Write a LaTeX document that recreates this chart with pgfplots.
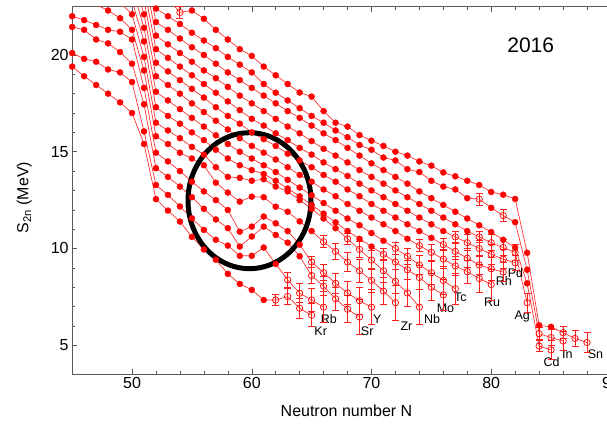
\documentclass[border=0pt]{standalone}
\usepackage{fontspec}
\setmainfont{Liberation Sans}
\usepackage{pgfplots}
\usepackage{pgfplotstable}
\pgfplotsset{compat=1.18}
\definecolor{barred}{RGB}{255,30,30}

% columns: N, S2n (MeV), E (error; 0 = filled/measured point, >0 = open/estimated point)
\pgfplotstableread{
N S E
45 19.40 0
46 18.90 0
47 18.45 0
48 18.00 0
49 17.55 0
50 17.00 0
51 15.40 0
52 12.55 0
53 11.96 0
54 11.39 0
55 10.60 0
56 9.95 0
57 9.42 0
58 8.69 0
59 8.17 0
60 7.86 0
61 7.34 0
62 7.34 0.3
63 7.52 0.4
64 6.91 0.5
65 6.55 0.6
}\Kr
\pgfplotstableread{
N S E
45 20.10 0
46 19.80 0
47 19.65 0
48 19.25 0
49 19.10 0
50 18.60 0
51 16.05 0
52 13.28 0
53 12.77 0
54 12.17 0
55 11.56 0
56 10.96 0
57 10.45 0
58 10.15 0
59 9.62 0
60 9.62 0
61 10.05 0
62 9.20 0
63 8.38 0.4
64 7.69 0.5
65 7.34 0.6
66 6.97 0.8
}\Rb
\pgfplotstableread{
N S E
45 21.45 0
46 21.30 0
47 20.80 0
48 20.60 0
49 20.15 0
50 19.55 0
51 17.45 0
52 14.15 0
53 13.70 0
54 13.20 0
55 12.65 0
56 12.05 0
57 11.50 0
58 11.05 0
59 10.10 0
60 10.62 0
61 11.13 0
62 10.70 0
63 10.30 0
64 9.60 0
65 8.60 0.4
66 8.05 0.5
67 7.40 0.6
68 6.86 0.7
69 6.46 0.9
}\Sr
\pgfplotstableread{
N S E
45 22.00 0
46 21.80 0
47 21.55 0
48 21.30 0
49 21.20 0
50 20.80 0
51 18.30 0
52 14.95 0
53 14.50 0
54 14.00 0
55 13.45 0
56 12.95 0
57 12.50 0
58 11.99 0
59 10.87 0
60 11.13 0
61 11.65 0
62 11.30 0
63 10.90 0
64 10.20 0
65 9.30 0.3
66 8.75 0.4
67 8.20 0.5
68 7.70 0.6
69 7.30 0.7
70 6.97 0.9
}\Y
\pgfplotstableread{
N S E
45 23.30 0
46 23.00 0
47 22.60 0
48 22.30 0
49 21.90 0
50 21.30 0
51 19.20 0
52 15.80 0
53 15.40 0
54 14.95 0
55 14.65 0
56 14.30 0
57 13.40 0
58 12.89 0
59 12.42 0
60 12.68 0
61 12.65 0
62 12.16 0
63 11.90 0
64 11.40 0
65 10.90 0
66 10.35 0.3
67 9.85 0.4
68 9.30 0.5
69 8.85 0.6
70 8.35 0.6
71 7.80 0.7
72 7.20 0.9
}\Zr
\pgfplotstableread{
N S E
47 23.40 0
48 23.10 0
49 22.70 0
50 22.10 0
51 19.90 0
52 16.50 0
53 16.10 0
54 15.70 0
55 15.25 0
56 14.85 0
57 14.20 0
58 13.70 0
59 13.65 0
60 13.50 0
61 13.58 0
62 13.20 0
63 12.95 0
64 12.50 0
65 12.05 0
66 11.55 0
67 11.05 0
68 10.50 0.3
69 9.95 0.4
70 9.40 0.5
71 8.85 0.6
72 8.30 0.6
73 7.70 0.7
74 6.97 0.9
}\Nb
\pgfplotstableread{
N S E
49 23.40 0
50 22.80 0
51 20.70 0
52 17.30 0
53 16.85 0
54 16.45 0
55 16.00 0
56 15.60 0
57 15.10 0
58 14.65 0
59 14.30 0
60 14.05 0
61 13.85 0
62 13.50 0
63 13.10 0
64 12.70 0
65 12.25 0
66 11.80 0
67 11.35 0
68 10.90 0
69 10.50 0
70 10.10 0
71 9.70 0.3
72 9.30 0.4
73 8.90 0.5
74 8.50 0.6
75 8.00 0.7
76 7.60 0.8
}\Mo
\pgfplotstableread{
N S E
50 23.50 0
51 21.40 0
52 18.10 0
53 17.65 0
54 17.20 0
55 16.75 0
56 16.30 0
57 15.85 0
58 15.40 0
59 15.00 0
60 14.65 0
61 14.30 0
62 13.95 0
63 13.55 0
64 13.15 0
65 12.75 0
66 12.35 0
67 11.95 0
68 11.55 0
69 11.20 0
70 10.80 0
71 10.40 0
72 10.00 0.3
73 9.60 0.4
74 9.15 0.5
75 8.75 0.6
76 8.35 0.7
77 7.92 0.8
}\Tc
\pgfplotstableread{
N S E
50 24.20 0
51 22.10 0
52 18.90 0
53 18.45 0
54 18.00 0
55 17.50 0
56 17.05 0
57 16.60 0
58 16.15 0
59 15.70 0
60 15.30 0
61 14.95 0
62 14.60 0
63 14.20 0
64 13.80 0
65 13.45 0
66 13.05 0
67 12.70 0
68 12.30 0
69 11.95 0
70 11.60 0
71 11.25 0
72 10.90 0
73 10.50 0
74 10.15 0.3
75 9.80 0.4
76 9.45 0.5
77 9.10 0.5
78 8.80 0.6
79 8.45 0.7
80 8.14 0.8
}\Ru
\pgfplotstableread{
N S E
50 24.90 0
51 22.80 0
52 19.60 0
53 19.15 0
54 18.70 0
55 18.25 0
56 17.80 0
57 17.30 0
58 16.85 0
59 16.45 0
60 16.00 0
61 15.65 0
62 15.30 0
63 14.90 0
64 14.55 0
65 14.20 0
66 13.80 0
67 13.45 0
68 13.05 0
69 12.70 0
70 12.30 0
71 11.95 0
72 11.60 0
73 11.25 0
74 10.90 0
75 10.55 0
76 10.20 0.3
77 9.85 0.4
78 9.50 0.5
79 9.15 0.5
80 8.95 0.6
81 8.78 0.5
}\Rh
\pgfplotstableread{
N S E
50 25.60 0
51 23.50 0
52 20.30 0
53 19.85 0
54 19.40 0
55 18.95 0
56 18.50 0
57 18.05 0
58 17.60 0
59 17.15 0
60 16.70 0
61 16.35 0
62 15.95 0
63 15.60 0
64 15.20 0
65 14.85 0
66 14.45 0
67 14.10 0
68 13.75 0
69 13.35 0
70 13.00 0
71 12.65 0
72 12.30 0
73 11.95 0
74 11.60 0
75 11.25 0
76 10.90 0
77 10.60 0.3
78 10.30 0.4
79 10.00 0.4
80 9.70 0.5
81 9.45 0.5
82 9.26 0.4
}\Pd
\pgfplotstableread{
N S E
51 24.20 0
52 21.00 0
53 20.55 0
54 20.10 0
55 19.65 0
56 19.20 0
57 18.80 0
58 18.35 0
59 17.90 0
60 17.50 0
61 17.10 0
62 16.70 0
63 16.30 0
64 15.95 0
65 15.55 0
66 15.15 0
67 14.80 0
68 14.45 0
69 14.05 0
70 13.70 0
71 13.35 0
72 13.00 0
73 12.65 0
74 12.30 0
75 11.95 0
76 11.60 0
77 11.25 0
78 10.90 0
79 10.60 0.3
80 10.30 0.4
81 10.05 0.4
82 9.80 0.4
83 7.20 0.5
}\Ag
\pgfplotstableread{
N S E
51 24.90 0
52 21.70 0
53 21.30 0
54 20.85 0
55 20.40 0
56 20.00 0
57 19.55 0
58 19.10 0
59 18.70 0
60 18.30 0
61 17.90 0
62 17.50 0
63 17.10 0
64 16.75 0
65 16.35 0
66 15.95 0
67 15.60 0
68 15.20 0
69 14.80 0
70 14.40 0
71 14.05 0
72 13.70 0
73 13.35 0
74 12.95 0
75 12.60 0
76 12.25 0
77 11.90 0
78 11.55 0
79 11.20 0
80 10.85 0
81 10.45 0
82 10.04 0
83 8.20 0
84 4.96 0.3
85 4.76 0.5
}\Cd
\pgfplotstableread{
N S E
51 25.60 0
52 22.40 0
53 22.00 0
54 21.60 0
55 21.15 0
56 20.75 0
57 20.35 0
58 19.90 0
59 19.50 0
60 19.10 0
61 18.50 0
62 18.05 0
63 17.65 0
64 17.25 0
65 16.85 0
66 16.50 0
67 16.10 0
68 15.75 0
69 15.35 0
70 15.10 0
71 14.70 0
72 14.55 0
73 14.10 0
74 13.95 0
75 13.50 0
76 13.20 0
77 13.05 0
78 12.60 0
79 12.55 0.3
80 12.10 0
81 11.70 0.3
82 11.36 0
83 8.90 0
84 5.60 0.3
85 5.40 0.4
86 5.22 0.5
}\In
\pgfplotstableread{
N S E
51 26.20 0
52 23.60 0
53 22.90 0.3
54 22.20 0.3
55 22.30 0
56 21.87 0
57 21.30 0
58 20.80 0
59 20.30 0
60 19.95 0
61 19.40 0
62 18.95 0
63 18.50 0
64 18.06 0
65 17.85 0
66 17.10 0
67 16.50 0
68 16.30 0
69 15.86 0
70 15.57 0
71 15.30 0
72 15.00 0
73 14.80 0
74 14.50 0
75 14.28 0
76 13.93 0
77 13.73 0
78 13.50 0
79 13.28 0
80 12.92 0
81 12.78 0
82 12.56 0
83 9.78 0
84 6.03 0
85 5.95 0
86 5.65 0.3
87 5.35 0.4
88 5.14 0.5
}\Sn

\pgfplotsset{
  chainline/.style={color=red!80!white, line width=0.7pt, mark=none, forget plot},
  chainfilled/.style={only marks, color=red, mark=*, mark size=3pt,
    restrict y to domain=3.4:22.6,
    restrict expr to domain={\thisrow{E}}{-1:0.01}, forget plot},
  % open points: open circle plus its error bar (half-length E MeV = E*19.358 pt here)
  chainopen/.style={only marks, color=red, mark=o, mark size=3.2pt,
    mark options={line width=0.7pt, fill=none, draw=red},
    restrict y to domain=3.4:22.6,
    restrict expr to domain={\thisrow{E}}{0.05:10}, forget plot,
    scatter, point meta=\thisrow{E},
    visualization depends on={\thisrow{E} \as \err},
    scatter/@pre marker code/.code={%
      \pgfmathsetmacro\eh{\err*19.358}%
      \draw[barred, line width=0.9pt]
        (0pt,-\eh pt) -- (0pt,\eh pt)
        (-3.5pt,-\eh pt) -- (3.5pt,-\eh pt)
        (-3.5pt,\eh pt) -- (3.5pt,\eh pt);
    },
    scatter/@post marker code/.code={},
  },
}
\newcommand{\chain}[1]{%
  \addplot[chainline] table[x=N,y=S]{#1};
  \addplot[chainfilled] table[x=N,y=S]{#1};
  \addplot[chainopen] table[x=N,y=S]{#1};
}

\begin{document}
\begin{tikzpicture}
\useasboundingbox (-72.2pt,-53.6pt) rectangle (535pt,374.4pt);
\begin{axis}[
  at={(0pt,0pt)}, anchor=south west, scale only axis,
  width=562.9pt, height=367.8pt,
  xmin=45, xmax=92, ymin=3.5, ymax=22.5,
  axis x line=box, axis y line=left,
  axis line style={-, black!65},
  tick style={black!65, line width=0.5pt},
  tick align=inside,
  major tick length=5pt, minor tick length=3pt,
  xtick={50,60,70,80,90}, ytick={5,10,15,20},
  minor x tick num=4, minor y tick num=4,
  /pgf/number format/assume math mode=true,
  tick label style={font=\fontsize{16}{18}\selectfont},
  xlabel={Neutron number N},
  ylabel={S\textsubscript{2n} (MeV)},
  label style={font=\fontsize{16}{18}\selectfont},
  xlabel style={at={(axis description cs:0.4875,-0.098)}, anchor=center},
  ylabel style={at={(axis description cs:-0.085,0.48)}, anchor=center},
  clip=true,
]
\chain{\Kr}
\chain{\Rb}
\chain{\Sr}
\chain{\Y}
\chain{\Zr}
\chain{\Nb}
\chain{\Mo}
\chain{\Tc}
\chain{\Ru}
\chain{\Rh}
\chain{\Pd}
\chain{\Ag}
\chain{\Cd}
\chain{\In}
\chain{\Sn}

\draw[black, line width=5pt] (axis cs:59.81,12.47) ellipse [x radius=61.5pt, y radius=68pt];

\node[font=\fontsize{21}{24}\selectfont] at (axis cs:83.3,20.5) {2016};

\begin{scope}[every node/.style={font=\fontsize{12.5}{14}\selectfont, inner sep=0pt}]
\node at (axis cs:65.76,5.74) {Kr};
\node at (axis cs:66.43,6.34) {Rb};
\node at (axis cs:69.64,5.74) {Sr};
\node at (axis cs:70.48,6.34) {Y};
\node at (axis cs:72.92,6.00) {Zr};
\node at (axis cs:75.07,6.34) {Nb};
\node at (axis cs:76.18,6.90) {Mo};
\node at (axis cs:77.43,7.49) {Tc};
\node at (axis cs:80.08,7.20) {Ru};
\node at (axis cs:81.05,8.31) {Rh};
\node at (axis cs:82.03,8.71) {Pd};
\node at (axis cs:82.59,6.48) {Ag};
\node at (axis cs:85.04,4.11) {Cd};
\node at (axis cs:86.35,4.54) {In};
\node at (axis cs:88.71,4.54) {Sn};
\end{scope}
\end{axis}
\end{tikzpicture}
\end{document}
